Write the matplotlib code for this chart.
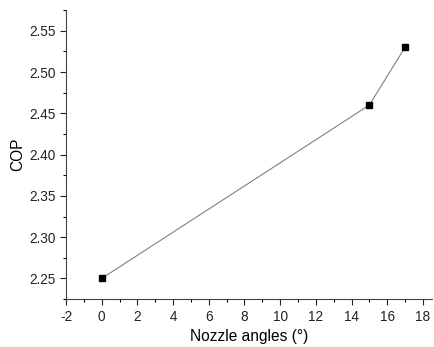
import matplotlib.pyplot as plt
from matplotlib.ticker import AutoMinorLocator

angles = [0, 15, 17]
cop = [2.25, 2.46, 2.53]

plt.rcParams['font.family'] = ['Liberation Sans', 'DejaVu Sans']
plt.rcParams['axes.unicode_minus'] = False

fig = plt.figure(figsize=(4.34, 3.47), dpi=100)
ax = fig.add_axes([0.152, 0.138, 0.843, 0.833])

ax.plot(angles, cop, color="#808080", lw=0.8, marker="s", ms=5,
        mfc="black", mec="black")

ax.set_xlim(-2, 18.5)
ax.set_ylim(2.225, 2.575)
ax.set_xticks(range(-2, 19, 2))
ax.set_yticks([2.25, 2.30, 2.35, 2.40, 2.45, 2.50, 2.55])
ax.xaxis.set_minor_locator(AutoMinorLocator(2))
ax.yaxis.set_minor_locator(AutoMinorLocator(2))
ax.tick_params(which="major", length=4, width=0.8, labelsize=9.8, colors="#222222")
ax.tick_params(which="minor", length=2, width=0.8)
for s in ["top", "right"]:
    ax.spines[s].set_visible(False)
for s in ["left", "bottom"]:
    ax.spines[s].set_color("#444444")

ax.set_xlabel("Nozzle angles (°)", fontsize=11.2, labelpad=4)
ax.set_ylabel("COP", fontsize=11.2, labelpad=3)

fig.savefig("out.png", dpi=100)
